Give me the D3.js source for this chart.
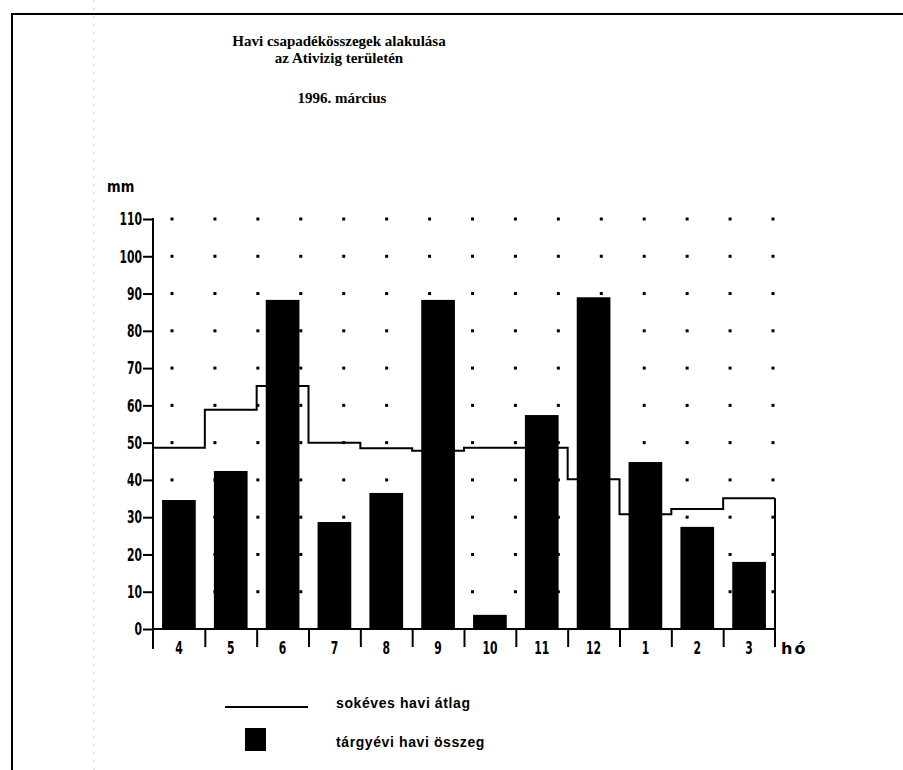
<!DOCTYPE html>
<html>
<head>
<meta charset="utf-8">
<script src="https://cdn.jsdelivr.net/npm/d3@7"></script>
<style>
  body { margin: 0; background: #fff; }
  .title { font-family: "Liberation Serif", "Times New Roman", serif; font-weight: bold; font-size: 15px; }
  .tick-label { font-family: "DejaVu Sans", sans-serif; font-weight: bold; font-size: 18px; }
  .unit-label { font-family: "DejaVu Sans", sans-serif; font-weight: bold; font-size: 16px; }
  .legend-label { font-family: "Liberation Sans", Arial, sans-serif; font-weight: bold; font-size: 14px; letter-spacing: 0.6px; }
</style>
</head>
<body>
<svg id="chart" width="903" height="770"></svg>
<script>
/*
HAVI CSAPADEK: bars for this year's monthly sum, step line for the long-term average
*/

const months = ["4", "5", "6", "7", "8", "9", "10", "11", "12", "1", "2", "3"];
const monthlySum = [34.6, 42.4, 88.3, 28.7, 36.5, 88.3, 3.8, 57.4, 89.0, 44.8, 27.4, 18.0];
const longTermAvg = [48.6, 58.8, 65.2, 50.0, 48.5, 47.8, 48.6, 48.6, 40.2, 30.8, 32.2, 35.1];
const yTicks = [0, 10, 20, 30, 40, 50, 60, 70, 80, 90, 100, 110];
const titleLines = ["Havi csapadékösszegek alakulása", "az Ativizig területén", "1996. március"];
const legendLabels = ["sokéves havi átlag", "tárgyévi havi összeg"];

const chart = d3.select("#chart");

// plot area
const plotLeft = 153;
const plotRight = 775;
const baseline = 629;
const plotTop = 219;
// the scanned labels use a narrow pixel font, squeeze sideways
const squeeze = 0.6;

const y = d3.scaleLinear().domain([0, 110]).range([baseline, plotTop]);
const x = d3
  .scaleBand()
  .domain(months)
  .range([plotLeft, plotRight])
  .paddingInner(0.35)
  .paddingOuter(0.175);
// month boundaries, 0..12
const xb = d3.scaleLinear().domain([0, months.length]).range([plotLeft, plotRight]);

// page frame from the scan
chart
  .append("path")
  .attr("d", "M12,770 L12,14 L903,14")
  .attr("fill", "none")
  .attr("stroke", "#000")
  .attr("stroke-width", 2);
chart
  .append("line")
  .attr("x1", 94)
  .attr("x2", 94)
  .attr("y1", 0)
  .attr("y2", 770)
  .attr("stroke", "#ccc")
  .attr("stroke-width", 1)
  .attr("stroke-dasharray", "2,6");

// titles
chart
  .selectAll()
  .data(titleLines)
  .enter()
  .append("text")
  .attr("class", "title")
  .attr("x", (d, i) => (i === 2 ? 342 : 339))
  .attr("y", (d, i) => [46, 63, 103][i])
  .attr("text-anchor", "middle")
  .text((d) => d);

// dotted grid, 15 columns, one row per 10 mm
const dotX = d3.scaleLinear().domain([0, 14]).range([172, 773]);
const dots = [];
d3.range(15).forEach((c) => {
  yTicks.slice(1).forEach((v) => dots.push([c, v]));
});
chart
  .append("g")
  .selectAll()
  .data(dots)
  .enter()
  .append("rect")
  .attr("x", (d) => dotX(d[0]) - 1.5)
  .attr("y", (d) => y(d[1]) - 1.5)
  .attr("width", 3)
  .attr("height", 3)
  .attr("fill", "#000");

// bars
chart
  .append("g")
  .selectAll()
  .data(monthlySum)
  .enter()
  .append("rect")
  .attr("x", (d, i) => x(months[i]))
  .attr("y", (d) => y(d))
  .attr("width", x.bandwidth())
  .attr("height", (d) => y(0) - y(d))
  .attr("fill", "#000");

// long-term average as steps
const stepPoints = longTermAvg.map((v, i) => [xb(i), y(v)]);
stepPoints.push([xb(months.length), y(longTermAvg[longTermAvg.length - 1])]);
const stepLine = d3.line().curve(d3.curveStepAfter);
chart
  .append("path")
  .attr("d", stepLine(stepPoints))
  .attr("fill", "none")
  .attr("stroke", "#000")
  .attr("stroke-width", 2);
// closing edge on the right down past the axis
chart
  .append("line")
  .attr("x1", xb(months.length))
  .attr("x2", xb(months.length))
  .attr("y1", y(longTermAvg[longTermAvg.length - 1]))
  .attr("y2", baseline + 18)
  .attr("stroke", "#000")
  .attr("stroke-width", 2);

// y axis
const yAxis = chart
  .append("g")
  .attr("transform", `translate(${plotLeft},0)`)
  .call(d3.axisLeft(y).tickValues(yTicks).tickSize(10).tickPadding(1).tickSizeOuter(0));
yAxis.select(".domain").remove();
yAxis.selectAll("line").attr("stroke-width", 2);
yAxis
  .selectAll("text")
  .attr("class", "tick-label")
  .attr("font-family", null)
  .attr("font-size", null)
  .attr("fill", "#000")
  .attr("x", 0)
  .attr("transform", `translate(-11,0) scale(${squeeze},1)`);
chart
  .append("line")
  .attr("x1", plotLeft)
  .attr("x2", plotLeft)
  .attr("y1", plotTop - 1)
  .attr("y2", baseline + 20)
  .attr("stroke", "#000")
  .attr("stroke-width", 2);

// x axis: boundary ticks below the baseline
const xAxis = chart
  .append("g")
  .attr("transform", `translate(0,${baseline})`)
  .call(
    d3
      .axisBottom(xb)
      .tickValues(d3.range(1, months.length))
      .tickSize(18)
      .tickFormat("")
      .tickSizeOuter(0)
  );
xAxis.select(".domain").attr("stroke-width", 2).attr("d", `M${plotLeft},0H${plotRight}`);
xAxis.selectAll("line").attr("stroke-width", 2);

// month labels
const xLabels = chart
  .append("g")
  .attr("transform", `translate(0,${baseline})`)
  .call(d3.axisBottom(x).tickSize(0).tickPadding(12));
xLabels.select(".domain").remove();
xLabels
  .selectAll("text")
  .attr("class", "tick-label")
  .attr("font-family", null)
  .attr("font-size", null)
  .attr("fill", "#000")
  .attr("transform", `scale(${squeeze},1)`);

// axis units
chart
  .append("text")
  .attr("class", "unit-label")
  .attr("transform", "translate(107,192) scale(0.82,1)")
  .text("mm");
chart
  .append("text")
  .attr("class", "unit-label")
  .attr("x", 781)
  .attr("y", 654)
  .attr("letter-spacing", "2px")
  .text("hó");

// legend
const legend = chart.append("g").attr("id", "legend");
legend
  .append("line")
  .attr("x1", 225)
  .attr("x2", 308)
  .attr("y1", 707)
  .attr("y2", 707)
  .attr("stroke", "#000")
  .attr("stroke-width", 2);
legend
  .append("rect")
  .attr("x", 245)
  .attr("y", 728)
  .attr("width", 21)
  .attr("height", 23)
  .attr("fill", "#000");
legend
  .selectAll()
  .data(legendLabels)
  .enter()
  .append("text")
  .attr("class", "legend-label")
  .attr("x", 336)
  .attr("y", (d, i) => 708 + i * 39)
  .text((d) => d);
</script>
</body>
</html>
